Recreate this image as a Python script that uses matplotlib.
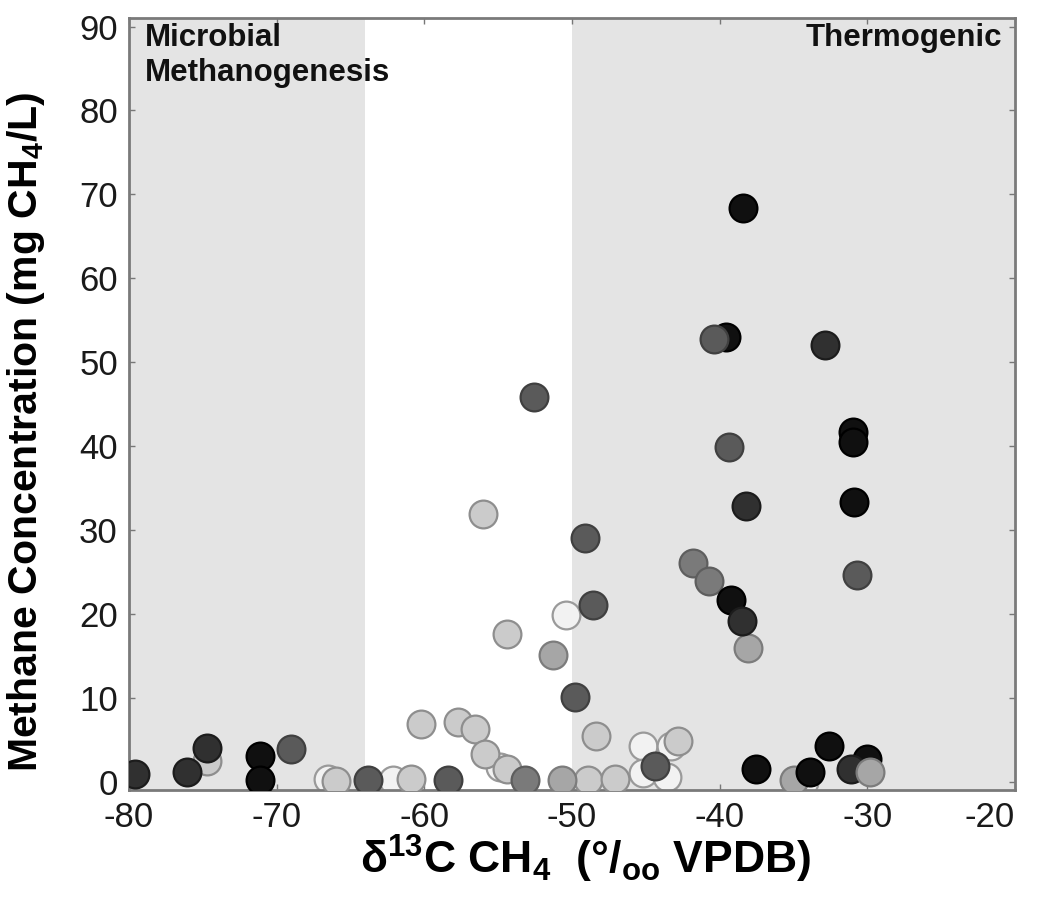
import matplotlib
matplotlib.use('Agg')
import matplotlib.pyplot as plt

plt.rcParams['font.family'] = ['Liberation Sans', 'DejaVu Sans']
plt.rcParams['mathtext.fontset'] = 'custom'
plt.rcParams['mathtext.rm'] = 'Liberation Sans:bold'
plt.rcParams['mathtext.default'] = 'rm'
plt.rcParams['axes.unicode_minus'] = False

# data, grouped by marker shade (d13C permil, mg CH4/L)
pale_x = [-66.5, -62.1, -54.9, -50.4, -45.2, -45.2, -43.6, -43.3, -34.3]
pale_y = [0.3, 0.15, 1.8, 19.9, 4.3, 1.0, 0.55, 4.3, -0.1]

light_x = [-74.7, -66.0, -60.9, -60.2, -57.7, -56.6, -55.9, -54.4, -54.4, -56.0,
           -48.9, -48.4, -47.1, -42.8]
light_y = [2.5, 0.1, 0.3, 6.9, 7.1, 6.3, 3.3, 1.5, 17.6, 31.9,
           0.15, 5.4, 0.35, 4.8]

midlight_x = [-50.7, -35.0, -38.1, -51.3]
midlight_y = [0.15, 0.15, 15.9, 15.1]

medium_x = [-53.2, -41.8, -40.7]
medium_y = [0.15, 26.0, 23.9]

black_x = [-71.1, -71.1, -37.55, -33.9, -32.6, -30.0, -39.2, -38.4, -39.6,
           -31.0, -31.0, -30.9]
black_y = [3.1, 0.15, 1.5, 1.2, 4.3, 2.7, 21.6, 68.4, 53.0, 41.7, 40.5, 33.3]

gray_x = [-69.0, -58.4, -52.6, -49.1, -48.6, -49.8, -40.4, -39.4, -30.7,
          -44.4, -63.8]
gray_y = [3.9, 0.15, 45.9, 29.0, 21.0, 10.1, 52.8, 39.9, 24.6, 1.9, 0.15]

dark_x = [-79.6, -76.1, -74.7, -38.5, -32.9, -38.2, -31.1]
dark_y = [0.9, 1.2, 4.0, 19.1, 52.0, 32.9, 1.5]

late_x = [-29.8]     # light marker drawn over the black ones
late_y = [1.15]

# shaded source regions
microbial = (-80, -64)
thermogenic = (-50, -20)

fig = plt.figure(figsize=(10.37, 9.06), dpi=100)
ax = fig.add_axes([0.1244, 0.128, 0.8544, 0.852])

ax.axvspan(microbial[0], microbial[1], color='#e4e4e4', lw=0, zorder=0)
ax.axvspan(thermogenic[0], thermogenic[1], color='#e4e4e4', lw=0, zorder=0)

ms = 400
ax.scatter(pale_x, pale_y, s=ms, c='#f2f2f2', edgecolors='#9a9a9a', linewidths=1.6, zorder=2)
ax.scatter(light_x, light_y, s=ms, c='#cbcbcb', edgecolors='#8e8e8e', linewidths=1.6, zorder=3)
ax.scatter(midlight_x, midlight_y, s=ms, c='#a6a6a6', edgecolors='#7c7c7c', linewidths=1.6, zorder=4)
ax.scatter(medium_x, medium_y, s=ms, c='#7a7a7a', edgecolors='#5e5e5e', linewidths=1.6, zorder=5)
ax.scatter(black_x, black_y, s=ms, c='#101010', edgecolors='#000000', linewidths=1.6, zorder=6)
ax.scatter(gray_x, gray_y, s=ms, c='#5a5a5a', edgecolors='#404040', linewidths=1.6, zorder=7)
ax.scatter(dark_x, dark_y, s=ms, c='#303030', edgecolors='#1c1c1c', linewidths=1.6, zorder=8)
ax.scatter(late_x, late_y, s=ms, c='#a6a6a6', edgecolors='#7c7c7c', linewidths=1.6, zorder=9)

ax.set_xlim(-80, -20)
ax.set_ylim(-1, 91)
ax.set_xticks(range(-80, -19, 10))
ax.set_yticks(range(0, 91, 10))
ax.tick_params(direction='in', length=4, width=1, colors='#777777', labelcolor='#1a1a1a',
               labelsize=25, top=True, right=True, pad=8)
# last x label sits inside the figure edge
ax.get_xticklabels()[-1].set_horizontalalignment('right')
for sp in ax.spines.values():
    sp.set_color('#7a7a7a')
    sp.set_linewidth(2)

ax.text(-78.9, 90.4, 'Microbial\nMethanogenesis', fontsize=22.5, fontweight='bold',
        ha='left', va='top', linespacing=1.2, color='#111111', zorder=10)
ax.text(-20.9, 90.4, 'Thermogenic', fontsize=22.5, fontweight='bold',
        ha='right', va='top', color='#111111', zorder=10)

ax.set_xlabel('δ$^{13}$C CH$_4$  (°/$_{oo}$ VPDB)', fontsize=32, fontweight='bold')
ax.xaxis.set_label_coords(0.515, -0.055)
ax.set_ylabel('Methane Concentration (mg CH$_4$/L)', fontsize=29.5, fontweight='bold')
ax.yaxis.set_label_coords(-0.092, 0.464)

fig.savefig('out.png', dpi=100)
